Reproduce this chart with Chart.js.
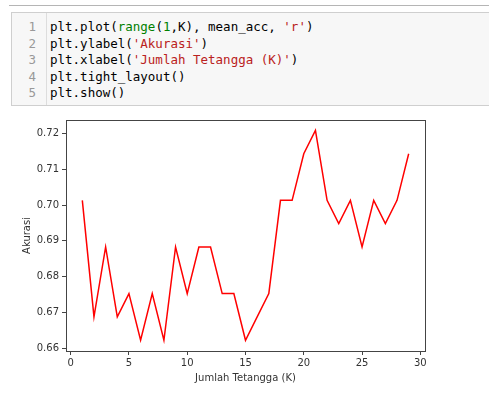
<!DOCTYPE html>
<html>
<head>
<meta charset="utf-8">
<script src="https://cdn.jsdelivr.net/npm/chart.js@4"></script>
<style>
  html, body { margin: 0; padding: 0; background: #fff; width: 489px; height: 396px; overflow: hidden; }
  #topline { position: absolute; left: 9px; right: 0; top: 5px; height: 1px; background: #b5b5b5; }
  #cell { position: absolute; left: 11px; top: 12px; width: 490px; height: 94px; background: #f7f7f7; border: 1px solid #cfcfcf; box-sizing: border-box; }
  #gutter { position: absolute; left: 0; top: 0; width: 34px; height: 100%; border-right: 1px solid #ddd; }
  .ln, .code { position: absolute; font-family: "DejaVu Sans Mono", monospace; font-size: 12.5px; line-height: 16.5px; white-space: pre; }
  .ln { color: #999; text-align: right; }
  .code { left: 38px; color: #000; }
  .b { color: #008000; }
  .n { color: #008000; }
  .s { color: #ba2121; }
  #chartwrap { position: absolute; left: 0; top: 110px; width: 489px; height: 286px; }
</style>
</head>
<body>
<div id="topline"></div>
<div id="cell">
  <div id="gutter"></div>
</div>
<div id="chartwrap"><canvas id="c" width="489" height="286"></canvas></div>
<script>
const codeLines = [
  'plt.plot(<span class="b">range</span>(<span class="n">1</span>,K), mean_acc, <span class="s">\'r\'</span>)',
  'plt.ylabel(<span class="s">\'Akurasi\'</span>)',
  'plt.xlabel(<span class="s">\'Jumlah Tetangga (K)\'</span>)',
  'plt.tight_layout()',
  'plt.show()'
];
const area = document.getElementById('cell');
codeLines.forEach((t, i) => {
  const top = 6 + i * 16.6;
  const ln = document.createElement('div');
  ln.className = 'ln'; ln.style.top = top + 'px';
  ln.style.left = '0px'; ln.style.width = '24px'; ln.textContent = String(i + 1);
  area.appendChild(ln);
  const cd = document.createElement('div');
  cd.className = 'code'; cd.style.top = top + 'px'; cd.innerHTML = t;
  area.appendChild(cd);
});

// Data
const kValues = [1,2,3,4,5,6,7,8,9,10,11,12,13,14,15,16,17,18,19,20,21,22,23,24,25,26,27,28,29];
const meanAcc = [0.7013,0.6688,0.6883,0.6688,0.6753,0.6623,0.6753,0.6623,0.6883,0.6753,
                 0.6883,0.6883,0.6753,0.6753,0.6623,0.6688,0.6753,0.7013,0.7013,0.7143,
                 0.7208,0.7013,0.6948,0.7013,0.6883,0.7013,0.6948,0.7013,0.7143];
const xTicks = [0,5,10,15,20,25,30];
const yTicks = [0.66,0.67,0.68,0.69,0.70,0.71,0.72];
const xLabel = 'Jumlah Tetangga (K)';
const yLabel = 'Akurasi';

const boxPlugin = {
  id: 'box',
  afterDraw(chart) {
    const a = chart.chartArea, ctx = chart.ctx;
    ctx.save();
    ctx.strokeStyle = '#444';
    ctx.lineWidth = 1;
    ctx.strokeRect(Math.round(a.left) + 0.5, Math.round(a.top) + 0.5, Math.round(a.right - a.left), Math.round(a.bottom - a.top));
    ctx.restore();
  }
};

const font = { family: 'DejaVu Sans', size: 10 };
new Chart(document.getElementById('c'), {
  type: 'line',
  data: {
    datasets: [{
      data: kValues.map((k, i) => ({ x: k, y: meanAcc[i] })),
      borderColor: '#ff0000',
      borderWidth: 1.5,
      pointRadius: 0,
      tension: 0,
      fill: false
    }]
  },
  options: {
    responsive: false,
    animation: false,
    layout: { padding: { left: 0, top: 10, right: 64, bottom: 0 } },
    plugins: { legend: { display: false }, tooltip: { enabled: false } },
    scales: {
      x: {
        type: 'linear', min: -0.4, max: 30.4,
        afterFit(s) { s.height = 45; },
        afterBuildTicks(s) { s.ticks = xTicks.map(v => ({ value: v })); },
        grid: { drawOnChartArea: false, tickLength: 4, color: '#444', drawTicks: true },
        border: { display: false },
        ticks: { font, color: '#333', padding: 2, maxRotation: 0, autoSkip: false, callback: v => String(v) },
        title: { display: true, text: xLabel, font, color: '#333', padding: { top: 2, bottom: 12 } }
      },
      y: {
        type: 'linear', min: 0.6593, max: 0.7237,
        afterFit(s) { s.width = 66; },
        afterBuildTicks(s) { s.ticks = yTicks.map(v => ({ value: v })); },
        grid: { drawOnChartArea: false, tickLength: 4, color: '#444', drawTicks: true },
        border: { display: false },
        ticks: { font, color: '#333', padding: 3, autoSkip: false, callback: v => v.toFixed(2) },
        title: { display: true, text: yLabel, font, color: '#333', padding: { top: 21, bottom: 0 } }
      }
    }
  },
  plugins: [boxPlugin]
});
</script>
</body>
</html>
